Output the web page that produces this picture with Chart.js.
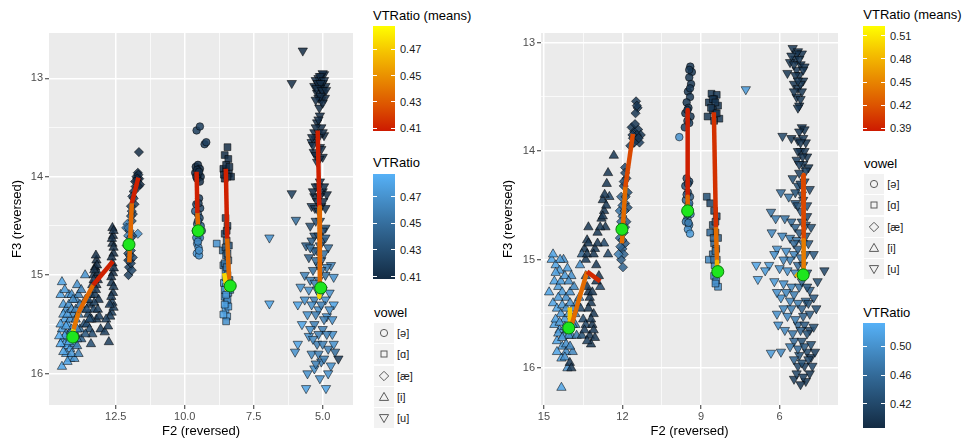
<!DOCTYPE html>
<html>
<head>
<meta charset="utf-8">
<script src="https://cdn.jsdelivr.net/npm/chart.js@4"></script>
<style>
  html, body { margin: 0; padding: 0; background: #fff; }
  body { width: 974px; height: 441px; position: relative; overflow: hidden;
         font-family: 'Liberation Sans', Arial, Helvetica, sans-serif; }
  canvas { position: absolute; top: 0; }
  .lg { position: absolute; white-space: nowrap; }
  .lg-title { font-size: 13px; line-height: 16px; color: #000; }
  .lg-text { font-size: 11px; line-height: 14px; color: #1a1a1a; }
  .bar { position: absolute; }
  .tick { position: absolute; height: 1px; width: 4px; background: #fff; }
  .key { position: absolute; width: 20px; height: 20px; background: #f2f2f2; }
</style>
</head>
<body>
<canvas id="left" width="360" height="441" style="left:0"></canvas>
<canvas id="right" width="350" height="441" style="left:495px"></canvas>
<script>
// ---- axes ----
const leftXRange = [3.9, 14.92];
const leftYRange = [12.54, 16.32];
const leftXTicks = [12.5, 10, 7.5, 5];
const leftXMinor = [11.25, 8.75, 6.25];
const rightXRange = [3.77, 15.11];
const rightYRange = [12.91, 16.34];
const rightXTicks = [15, 12, 9, 6];
const rightXMinor = [13.5, 10.5, 7.5, 4.5];
const yTicks = [13, 14, 15, 16];
const yMinor = [13.5, 14.5, 15.5];

const vowels = ['[ə]', '[ɑ]', '[æ]', '[i]', '[u]'];

// ---- colour scales (legend ranges) ----
const leftRatioRange = [0.408, 0.487];
const leftMeansRange = [0.408, 0.488];
const rightRatioRange = [0.386, 0.533];
const rightMeansRange = [0.387, 0.523];
const leftRatioTicks = [0.41, 0.43, 0.45, 0.47];
const leftMeansTicks = [0.41, 0.43, 0.45, 0.47];
const rightRatioTicks = [0.42, 0.46, 0.50];
const rightMeansTicks = [0.39, 0.42, 0.45, 0.48, 0.51];

// ---- left panel tokens: [F2, F3, VTRatio] ----
const leftSchwa = [[9.57,13.53,0.42],[9.45,13.49,0.42],[9.28,13.67,0.42],[9.22,13.65,0.42],[9.6,13.9,0.41],[9.52,13.88,0.41],
  [9.45,13.92,0.41],[9.62,13.96,0.41],[9.5,13.98,0.41],[9.42,14.0,0.41],[9.55,14.02,0.415],[9.48,14.22,0.42],[9.58,14.28,0.425],
  [9.44,14.32,0.425],[9.52,14.38,0.43],[9.62,14.35,0.44],[9.46,14.42,0.43],[9.55,14.48,0.44],[9.42,14.5,0.44],[9.6,14.55,0.45],
  [9.5,14.6,0.455],[9.45,14.62,0.46],[9.55,14.68,0.465],[9.5,14.72,0.47],[9.56,14.78,0.475],[9.48,14.8,0.47],[9.38,14.55,0.45],
  [9.55,13.93,0.41],[9.48,13.95,0.41],[9.58,14.0,0.41],[9.45,14.05,0.41],[9.5,14.27,0.42],[9.52,14.45,0.44],[9.45,14.55,0.45],
  [9.58,14.62,0.46],[9.52,14.66,0.465],[9.48,14.75,0.47]];
const leftA = [[8.45,13.7,0.41],[8.55,13.78,0.41],[8.42,13.82,0.41],[8.6,13.92,0.41],[8.5,13.95,0.41],[8.4,13.97,0.41],[8.32,14.0,0.41],
  [8.55,14.02,0.41],[8.52,14.42,0.42],[8.45,14.5,0.42],[8.55,14.58,0.425],[8.48,14.65,0.43],[8.4,14.7,0.43],[8.84,14.68,0.47],
  [8.62,14.75,0.45],[8.5,14.8,0.45],[8.42,14.85,0.44],[8.6,14.9,0.46],[8.52,14.95,0.46],[8.45,15.0,0.455],[8.38,15.05,0.45],
  [8.58,15.08,0.47],[8.5,15.12,0.47],[8.42,15.18,0.46],[8.55,15.22,0.475],[8.48,15.28,0.47],[8.52,15.35,0.48],[8.46,15.42,0.475],
  [8.5,15.47,0.47],[8.6,15.4,0.48],[8.35,15.15,0.46],
  [8.5,13.88,0.41],[8.38,13.9,0.41],[8.58,13.98,0.41],[8.45,14.0,0.41],[8.48,14.55,0.42],[8.52,14.72,0.43],[8.45,14.78,0.44],
  [8.55,14.88,0.45],[8.48,14.92,0.455],[8.42,15.08,0.46],[8.52,15.02,0.46],[8.55,15.15,0.47],[8.45,15.25,0.47],[8.5,15.2,0.475],
  [8.42,15.32,0.475],[8.55,15.3,0.48]];
const leftAe = [[11.66,13.75,0.41],[11.7,13.96,0.41],[11.75,14.0,0.41],[11.65,14.02,0.41],[11.72,14.05,0.41],[11.62,14.08,0.41],
  [11.78,14.1,0.415],[11.85,14.15,0.415],[11.9,14.2,0.42],[11.82,14.28,0.42],[11.95,14.3,0.42],[11.88,14.38,0.425],[11.92,14.45,0.43],
  [12.08,14.48,0.46],[12.12,14.52,0.47],[12.0,14.55,0.45],[12.05,14.6,0.46],[11.7,14.58,0.47],[11.9,14.6,0.43],[12.0,14.68,0.44],
  [11.95,14.75,0.43],[12.05,14.78,0.43],[11.98,14.85,0.42],[12.02,14.92,0.42],[12.04,15.0,0.42],[11.92,14.95,0.425],[11.88,14.82,0.43],
  [12.1,14.7,0.44],
  [11.68,13.98,0.41],[11.72,14.02,0.41],[11.68,14.1,0.41],[11.8,14.05,0.41],[11.85,14.22,0.42],[11.92,14.35,0.425],[11.95,14.4,0.43],
  [12.05,14.52,0.45],[11.95,14.62,0.44],[12.0,14.8,0.43],[11.95,14.88,0.42],[12.05,14.85,0.42]];
const leftI = [[14.45,15.07,0.48],[14.4,15.3,0.475],[14.3,15.35,0.47],[14.2,15.2,0.475],[14.1,15.2,0.47],[13.95,15.25,0.465],
  [13.85,15.2,0.46],[13.9,15.1,0.47],[14.35,15.45,0.48],[14.25,15.5,0.485],[14.15,15.45,0.47],[14.05,15.4,0.465],[13.95,15.45,0.46],
  [13.85,15.4,0.455],[14.45,15.55,0.48],[14.4,15.65,0.485],[14.3,15.6,0.48],[14.2,15.6,0.475],[14.1,15.55,0.47],[13.95,15.6,0.46],
  [13.8,15.55,0.45],[14.35,15.7,0.48],[14.25,15.72,0.485],[14.15,15.75,0.48],[14.0,15.7,0.47],[13.9,15.72,0.46],[14.3,15.8,0.48],
  [14.15,15.85,0.475],[14.45,15.93,0.48],[14.0,15.85,0.47],[13.75,15.65,0.44],[13.65,15.5,0.43],[13.7,15.35,0.44],[13.6,15.25,0.44],
  [13.61,15.0,0.47],
  [14.5,15.2,0.48],[14.35,15.15,0.475],[14.2,15.3,0.47],[14.05,15.25,0.465],[14.4,15.4,0.48],[14.25,15.4,0.475],[14.1,15.35,0.47],
  [14.5,15.5,0.48],[14.3,15.52,0.48],[14.15,15.6,0.475],[14.05,15.62,0.47],[13.9,15.55,0.46],[14.5,15.7,0.485],[14.35,15.62,0.48],
  [14.2,15.68,0.48],[14.1,15.8,0.475],[14.4,15.78,0.48],[14.25,15.88,0.48],[13.85,15.8,0.46],[13.95,15.35,0.46],[13.8,15.3,0.455],
  [13.75,15.15,0.46],[13.9,15.65,0.455],[14.55,15.62,0.485],
  [13.55,15.5,0.43],[13.5,15.4,0.425],[13.45,15.3,0.42],[13.4,15.2,0.42],[13.35,15.1,0.415],[13.3,15.0,0.415],[13.25,14.92,0.41],
  [13.2,14.85,0.41],[13.15,14.98,0.41],[13.2,15.1,0.415],[13.25,15.2,0.42],[13.3,15.35,0.425],[13.2,15.45,0.42],[13.45,15.55,0.43],
  [13.35,15.6,0.43],
  [13.22,14.8,0.41],[13.18,14.9,0.41],[13.28,14.95,0.41],[13.15,15.05,0.41],[13.3,15.05,0.415],[13.22,15.15,0.415],[13.12,15.25,0.415],
  [13.28,15.28,0.42],[13.15,15.35,0.42],[13.1,15.42,0.42],[13.38,15.45,0.425],[13.5,15.25,0.425],[13.55,15.35,0.43],[13.45,15.45,0.43],
  [13.6,15.6,0.435],[13.4,15.7,0.43],[13.05,15.55,0.42],
  [12.62,14.52,0.41],[12.6,14.6,0.41],[12.62,14.68,0.41],[12.58,14.78,0.41],[12.62,14.88,0.41],[12.6,14.98,0.41],[12.65,15.08,0.415],
  [12.6,15.18,0.415],[12.62,15.28,0.42],[12.65,15.38,0.42],[12.7,15.42,0.42],[12.85,15.45,0.42],[12.75,15.68,0.42],
  [12.58,14.55,0.41],[12.64,14.63,0.41],[12.58,14.72,0.41],[12.65,14.82,0.41],[12.57,14.93,0.41],[12.66,15.02,0.41],[12.58,15.12,0.415],
  [12.66,15.22,0.415],[12.58,15.33,0.42],[12.72,15.3,0.42],[12.9,15.58,0.42],[12.78,15.52,0.42]];
const leftU = [[5.72,12.72,0.41],[6.12,13.05,0.41],[5.05,12.98,0.41],[4.95,12.96,0.41],[5.15,13.0,0.41],[5.25,13.02,0.41],
  [5.0,13.05,0.41],[4.9,13.08,0.41],[5.1,13.1,0.41],[5.2,13.15,0.41],[4.98,13.15,0.41],[5.05,13.22,0.41],[4.92,13.2,0.41],
  [5.3,13.08,0.41],[5.12,13.3,0.41],
  [5.0,12.95,0.41],[5.1,12.98,0.41],[5.18,13.05,0.41],[4.95,13.02,0.41],[5.08,13.05,0.41],[5.22,13.1,0.41],[5.02,13.12,0.41],
  [4.88,13.12,0.41],[5.15,13.2,0.41],[5.0,13.25,0.41],[5.08,13.18,0.41],[5.25,13.22,0.41],
  [5.1,13.38,0.41],[5.2,13.45,0.41],[5.05,13.5,0.41],[5.3,13.55,0.41],[4.95,13.58,0.41],[5.25,13.62,0.41],[5.4,13.65,0.42],
  [5.1,13.7,0.41],[5.32,13.75,0.41],[5.0,13.8,0.41],[5.2,13.85,0.415],
  [5.15,13.42,0.41],[5.25,13.5,0.41],[5.0,13.55,0.41],[5.15,13.6,0.41],[5.35,13.68,0.41],[5.05,13.72,0.41],[5.25,13.78,0.41],
  [5.12,13.82,0.41],[5.38,13.6,0.41],
  [6.12,14.17,0.42],[5.15,14.1,0.41],[5.0,14.15,0.41],[5.3,14.2,0.41],[4.85,14.18,0.41],[5.2,14.25,0.41],[5.05,14.3,0.415],
  [5.4,14.3,0.42],[4.9,14.32,0.415],[5.97,14.44,0.45],[6.93,14.62,0.47],
  [5.1,14.05,0.41],[5.25,14.1,0.41],[4.95,14.1,0.41],[5.35,14.15,0.41],[5.1,14.2,0.41],[4.98,14.25,0.41],[5.28,14.32,0.415],
  [5.15,14.35,0.415],
  [5.45,14.5,0.43],[5.1,14.45,0.42],[4.9,14.52,0.43],[5.3,14.6,0.43],[5.6,14.7,0.44],[5.0,14.65,0.43],[5.2,14.75,0.44],[4.8,14.72,0.45],
  [5.5,14.82,0.44],[5.05,14.85,0.44],[4.7,14.9,0.46],[5.35,14.95,0.45],[5.65,15.0,0.46],[4.9,15.0,0.45],[4.6,15.02,0.47],[5.15,15.05,0.45],
  [5.25,14.45,0.43],[5.0,14.55,0.43],[5.15,14.6,0.43],[5.4,14.65,0.44],[4.9,14.62,0.44],[5.1,14.7,0.44],[5.3,14.75,0.44],
  [5.45,14.72,0.45],[4.95,14.78,0.45],[5.15,14.9,0.45],[5.25,14.85,0.45],[4.85,14.92,0.46],[5.05,14.95,0.45],[5.45,15.05,0.46],
  [5.28,15.08,0.46],
  [5.8,15.12,0.47],[5.5,15.15,0.47],[5.0,15.15,0.46],[4.75,15.18,0.47],[5.3,15.25,0.46],[6.93,15.29,0.48],[5.9,15.3,0.48],[4.6,15.3,0.48],
  [5.15,15.35,0.47],[5.55,15.4,0.47],[4.85,15.42,0.47],[5.75,15.5,0.48],[5.3,15.5,0.46],[5.0,15.55,0.46],[4.65,15.6,0.47],[5.5,15.62,0.47],
  [5.9,15.7,0.48],[5.2,15.7,0.46],[4.8,15.75,0.46],[6.0,15.78,0.47],[5.4,15.8,0.465],[4.43,15.85,0.42],[5.05,15.88,0.46],[4.7,15.92,0.47],
  [5.3,15.95,0.47],[5.55,16.0,0.47],[4.8,16.0,0.47],[5.6,16.15,0.48],[4.88,16.15,0.48],
  [5.1,15.2,0.47],[4.9,15.25,0.47],[5.2,15.15,0.47],[5.4,15.3,0.47],[5.05,15.3,0.46],[4.75,15.35,0.47],[5.25,15.4,0.46],
  [4.95,15.45,0.46],[5.45,15.55,0.47],[5.15,15.6,0.46],[4.85,15.6,0.46],[5.35,15.65,0.465],[5.0,15.7,0.46],[4.6,15.7,0.47],
  [5.15,15.8,0.46],[4.95,15.85,0.46],[5.25,15.9,0.46],[4.55,15.78,0.45],[4.65,15.45,0.47],[5.65,15.25,0.47],[5.1,16.05,0.47]];

// ---- left panel mean trajectories: [F2, F3, mean VTRatio] ----
const leftPathSchwa = [[9.57,13.95,0.41],[9.54,14.37,0.435],[9.51,14.54,0.435]];
const leftPathA = [[8.51,13.92,0.41],[8.46,14.63,0.435],[8.38,15.12,0.475],[8.48,15.14,0.475],[8.57,14.98,0.475]];
const leftPathAe = [[11.68,14.01,0.41],[11.92,14.27,0.435],[12.01,14.87,0.435]];
const leftPathI = [[14.06,15.63,0.478],[14.03,15.55,0.44],[13.85,15.38,0.435],[13.32,15.10,0.41],[12.6,14.86,0.41]];
const leftPathU = [[5.18,13.53,0.41],[5.12,14.31,0.435],[5.10,15.12,0.475],[5.12,15.22,0.475]];
const leftCentres = [[9.51,14.55],[8.35,15.11],[12.02,14.69],[14.06,15.63],[5.07,15.13]];

// ---- right panel tokens: [F2, F3, VTRatio] ----
const rightSchwa = [[9.41,13.22,0.40],[9.35,13.27,0.40],[9.45,13.32,0.40],[9.38,13.38,0.40],[9.5,13.45,0.40],[9.42,13.5,0.40],
  [9.55,13.55,0.40],[9.48,13.6,0.40],[9.6,13.65,0.40],[9.4,13.68,0.40],[9.52,13.72,0.41],[9.62,13.78,0.41],[9.83,13.87,0.50],
  [9.55,14.25,0.42],[9.45,14.28,0.42],[9.6,14.32,0.43],[9.5,14.38,0.43],[9.42,14.42,0.44],[9.58,14.45,0.45],[9.48,14.5,0.46],
  [9.55,14.55,0.47],[9.4,14.58,0.48],[9.52,14.62,0.48],[9.45,14.68,0.49],[9.58,14.65,0.48],[9.5,14.72,0.50],[9.42,14.76,0.51],
  [9.45,13.25,0.40],[9.42,13.42,0.40],[9.52,13.62,0.40],[9.45,13.74,0.41],[9.5,14.3,0.42],[9.55,14.4,0.44],[9.45,14.48,0.46],
  [9.52,14.58,0.47],[9.48,14.66,0.48]];
const rightA = [[8.6,13.47,0.40],[8.4,13.48,0.40],[8.5,13.52,0.40],[8.7,13.55,0.40],[8.35,13.58,0.40],[8.55,13.62,0.40],
  [8.45,13.65,0.40],[8.75,13.68,0.40],[8.3,13.7,0.40],[8.5,13.72,0.40],[8.78,14.42,0.43],[8.65,14.48,0.42],[8.5,14.55,0.42],
  [8.4,14.6,0.42],[8.55,14.68,0.43],[8.45,14.75,0.43],[8.35,14.8,0.44],[8.5,14.85,0.45],[8.42,14.9,0.46],[8.55,14.95,0.47],
  [8.4,15.0,0.47],[8.48,15.05,0.48],[8.38,15.1,0.49],[8.5,15.15,0.49],[8.42,15.2,0.50],[8.35,15.25,0.50],[8.65,14.75,0.46],[8.7,15.0,0.49],
  [8.55,13.52,0.40],[8.45,13.55,0.40],[8.62,13.6,0.40],[8.4,13.65,0.40],[8.45,14.65,0.43],[8.52,14.8,0.44],[8.45,14.92,0.46],
  [8.5,15.0,0.47],[8.42,15.12,0.49],[8.45,15.22,0.50]];
const rightAe = [[11.48,13.54,0.40],[11.42,13.6,0.40],[11.5,13.65,0.40],[11.65,13.78,0.40],[11.55,13.82,0.40],[11.4,13.8,0.40],
  [11.3,13.85,0.40],[11.6,13.88,0.40],[11.48,13.9,0.40],[11.35,13.92,0.41],[11.7,13.95,0.41],[11.9,14.15,0.42],[11.85,14.25,0.42],
  [11.95,14.32,0.42],[11.8,14.38,0.43],[12.05,14.42,0.45],[11.9,14.48,0.44],[11.8,14.52,0.43],[12.1,14.55,0.47],[12.0,14.6,0.46],
  [11.85,14.65,0.44],[12.05,14.7,0.47],[11.95,14.75,0.45],[12.1,14.8,0.46],[11.9,14.85,0.44],[12.0,14.9,0.45],[11.95,14.95,0.45],
  [12.05,15.0,0.44],[11.98,15.07,0.45],[12.15,14.95,0.48],
  [11.45,13.58,0.40],[11.52,13.75,0.40],[11.45,13.85,0.40],[11.38,13.88,0.40],[11.55,13.92,0.40],[11.62,13.85,0.40],[11.9,14.2,0.42],
  [11.95,14.28,0.42],[11.88,14.42,0.43],[12.0,14.5,0.45],[11.92,14.55,0.44],[12.05,14.65,0.46],[11.9,14.7,0.45],[12.0,14.82,0.45],
  [12.08,14.88,0.45]];
const rightI = [[14.7,15.0,0.52],[14.55,15.05,0.52],[14.4,15.1,0.51],[14.25,15.0,0.50],[14.1,15.08,0.51],[13.95,15.15,0.50],
  [14.6,15.2,0.52],[14.45,15.25,0.51],[14.3,15.3,0.51],[14.15,15.35,0.50],[14.0,15.3,0.50],[13.85,15.25,0.49],[14.65,15.4,0.52],
  [14.5,15.45,0.52],[14.35,15.5,0.51],[14.2,15.55,0.51],[14.05,15.5,0.50],[13.9,15.45,0.49],[13.75,15.4,0.48],[14.6,15.6,0.52],
  [14.4,15.65,0.51],[14.25,15.7,0.51],[14.1,15.65,0.50],[13.95,15.7,0.49],[13.8,15.6,0.48],[14.5,15.75,0.52],[14.3,15.8,0.51],
  [14.15,15.85,0.50],[13.9,15.85,0.49],[14.33,15.91,0.52],[14.33,16.18,0.52],[13.62,15.05,0.50],[13.65,15.35,0.49],[14.8,15.3,0.52],
  [14.55,15.12,0.52],[14.35,15.2,0.51],[14.2,15.15,0.51],[14.05,15.2,0.50],[14.45,15.35,0.51],[14.3,15.42,0.51],[14.15,15.45,0.50],
  [14.0,15.4,0.50],[14.55,15.55,0.52],[14.4,15.58,0.51],[14.2,15.62,0.50],[14.05,15.7,0.50],[13.9,15.6,0.49],[14.45,15.68,0.51],
  [14.3,15.72,0.51],[14.15,15.78,0.50],[14.0,15.8,0.49],[13.75,15.7,0.48],[13.8,15.5,0.48],[14.65,14.95,0.52],[14.38,15.0,0.51],
  [14.5,15.85,0.52],[14.2,15.9,0.50],[14.1,16.0,0.50],
  [14.01,15.95,0.40],[13.95,16.0,0.40],[13.6,15.45,0.42],[13.5,15.55,0.42],[13.4,15.6,0.42],[13.55,15.7,0.43],[13.3,15.3,0.40],
  [13.2,15.4,0.40],[13.1,15.5,0.40],[13.15,15.6,0.40],[13.25,15.7,0.40],[13.05,15.72,0.40],[13.4,15.0,0.40],[13.45,14.9,0.40],
  [13.35,14.82,0.40],[13.4,15.15,0.42],[13.0,15.05,0.40],[12.9,15.15,0.40],[12.85,15.25,0.42],[13.05,14.9,0.40],[12.95,14.75,0.40],
  [12.8,14.62,0.40],[12.7,14.55,0.40],[12.75,14.45,0.40],[12.65,14.7,0.40],[12.7,14.85,0.42],[12.55,14.95,0.42],[12.6,14.3,0.40],
  [12.5,14.42,0.42],[12.33,14.04,0.40],[13.55,14.95,0.45],[13.3,14.7,0.40],
  [13.35,15.25,0.40],[13.25,15.35,0.40],[13.15,15.3,0.40],[13.3,15.45,0.40],[13.2,15.55,0.40],[13.1,15.65,0.40],[13.2,15.78,0.40],
  [13.45,15.65,0.41],[13.35,15.75,0.41],[13.35,14.95,0.40],[13.3,14.85,0.40],[13.1,14.95,0.40],[12.95,14.85,0.40],[12.85,14.7,0.40],
  [12.75,14.6,0.40],[12.68,14.4,0.40],[12.62,14.5,0.40],[12.55,14.2,0.40],[13.0,15.2,0.40]];
const rightU = [[5.5,13.05,0.40],[5.3,13.08,0.40],[5.15,13.1,0.40],[5.4,13.15,0.40],[5.6,13.18,0.40],[5.2,13.2,0.40],[5.05,13.22,0.40],
  [5.35,13.25,0.40],[5.7,13.28,0.40],[5.25,13.3,0.40],[5.1,13.35,0.40],[5.45,13.38,0.40],[5.3,13.42,0.40],[5.15,13.45,0.40],
  [5.35,13.5,0.40],[5.25,13.58,0.40],[7.29,13.43,0.51],
  [5.35,13.1,0.40],[5.45,13.2,0.40],[5.25,13.15,0.40],[5.55,13.12,0.40],[5.1,13.25,0.40],[5.4,13.3,0.40],[5.2,13.38,0.40],
  [5.3,13.35,0.40],[5.45,13.45,0.40],[5.2,13.52,0.40],[5.3,13.6,0.40],
  [5.89,13.86,0.42],[5.15,13.78,0.40],[5.05,13.8,0.40],[5.55,13.88,0.40],[5.3,13.9,0.40],[5.0,13.92,0.40],[5.2,14.0,0.40],
  [4.95,14.05,0.40],[5.35,14.08,0.41],[5.1,14.12,0.40],[4.9,14.15,0.40],[5.25,14.2,0.41],
  [5.25,13.82,0.40],[5.1,13.88,0.40],[5.2,13.92,0.40],[5.05,14.0,0.40],[5.3,14.0,0.40],[5.12,14.05,0.40],[5.25,14.12,0.41],
  [5.0,14.18,0.41],
  [5.5,14.25,0.43],[5.05,14.28,0.42],[5.3,14.32,0.43],[4.85,14.35,0.42],[5.15,14.4,0.43],[5.65,14.42,0.47],[5.95,14.38,0.46],
  [5.4,14.48,0.44],[4.95,14.5,0.43],[5.2,14.55,0.44],[6.33,14.56,0.47],[6.15,14.62,0.48],[5.8,14.62,0.47],[5.55,14.65,0.46],
  [5.0,14.68,0.44],[4.8,14.7,0.43],[6.3,14.75,0.49],[5.9,14.78,0.49],[5.6,14.8,0.48],[5.35,14.82,0.47],[5.1,14.85,0.45],
  [4.9,14.85,0.44],[6.1,14.9,0.50],[5.75,14.92,0.50],[5.45,14.95,0.49],[5.2,14.98,0.47],[4.7,14.95,0.44],[6.89,15.05,0.52],
  [6.4,15.05,0.51],[6.0,15.08,0.50],[5.7,15.1,0.50],[5.4,15.12,0.49],[4.95,15.12,0.44],[4.29,15.1,0.42],[6.83,15.18,0.52],
  [6.2,15.2,0.51],[5.85,15.22,0.50],[5.55,15.25,0.49],[5.25,15.25,0.47],[4.85,15.28,0.45],[5.95,15.35,0.50],[5.6,15.38,0.49],
  [5.3,15.4,0.48],[5.0,15.38,0.46],[4.7,15.35,0.44],
  [5.2,14.3,0.42],[5.4,14.38,0.43],[5.1,14.45,0.42],[5.3,14.5,0.43],[4.95,14.6,0.42],[5.15,14.65,0.43],[5.4,14.7,0.45],
  [5.25,14.75,0.44],[5.0,14.78,0.43],[5.45,14.85,0.46],[5.3,14.9,0.45],[5.0,14.95,0.43],[5.6,15.0,0.48],[5.3,15.05,0.46],
  [5.1,15.05,0.44],[5.85,15.0,0.49],[6.2,14.95,0.50],[6.55,15.1,0.51],[6.1,15.3,0.50],[5.75,15.3,0.49],[5.45,15.32,0.48],
  [5.15,15.2,0.45],[4.95,15.25,0.44],[5.15,15.45,0.45],[4.9,15.4,0.43],[5.55,15.45,0.48],[5.85,15.45,0.49],[5.3,15.6,0.46],
  [5.05,15.6,0.44],[4.85,15.65,0.42],[5.45,15.75,0.46],[5.15,15.75,0.43],[4.95,15.85,0.42],[5.25,15.88,0.43],[5.05,15.98,0.41],
  [5.3,15.98,0.42],[4.8,15.9,0.41],[5.0,16.12,0.40],[5.45,16.1,0.41],[4.65,15.85,0.41],[6.05,15.6,0.50],[5.95,15.85,0.49],
  [4.6,15.45,0.43],[4.55,15.2,0.43],
  [6.1,15.5,0.50],[5.7,15.52,0.49],[5.4,15.55,0.48],[5.1,15.52,0.45],[4.85,15.5,0.44],[5.8,15.65,0.49],[5.5,15.68,0.47],
  [5.2,15.65,0.45],[4.95,15.68,0.43],[4.7,15.62,0.43],[5.6,15.8,0.48],[5.3,15.82,0.46],[5.05,15.8,0.44],[4.8,15.78,0.43],
  [6.33,15.86,0.51],[5.45,15.92,0.45],[5.15,15.95,0.43],[4.9,15.92,0.42],[4.75,15.98,0.42],[5.35,16.05,0.42],[5.1,16.08,0.41],
  [4.85,16.05,0.40],[5.2,16.15,0.40]];

// ---- right panel mean trajectories ----
const rightPathSchwa = [[9.51,13.62,0.39],[9.51,14.42,0.43],[9.51,14.54,0.43]];
const rightPathA = [[8.51,13.64,0.40],[8.43,14.70,0.435],[8.39,15.02,0.48],[8.39,15.08,0.48]];
const rightPathAe = [[11.60,13.84,0.414],[11.89,14.33,0.435],[12.02,14.85,0.435]];
const rightPathI = [[14.01,15.44,0.49],[14.0,15.65,0.435],[13.35,15.11,0.395],[12.85,15.20,0.395]];
const rightPathU = [[5.10,14.22,0.414],[5.08,14.82,0.445],[5.08,15.13,0.445],[5.14,15.18,0.48],[5.39,15.13,0.48]];
const rightCentres = [[9.51,14.55],[8.36,15.11],[12.02,14.72],[14.05,15.63],[5.10,15.14]];

// ---- colours ----
const blueStops = ['#132B43', '#336A98', '#56B1F7'];
const heatStops = ['#CD1A00', '#DD5500', '#E98B00', '#F5C200', '#FFFF00'];

function hexToRgb(h) {
  const n = parseInt(h.slice(1), 16);
  return [n >> 16 & 255, n >> 8 & 255, n & 255];
}
function ramp(stops, t, a) {
  t = Math.max(0, Math.min(1, t));
  const n = stops.length - 1;
  const i = Math.min(Math.floor(t * n), n - 1);
  const f = t * n - i;
  const c0 = hexToRgb(stops[i]), c1 = hexToRgb(stops[i + 1]);
  const c = c0.map((v, k) => Math.round(v + (c1[k] - v) * f));
  return `rgba(${c[0]},${c[1]},${c[2]},${a})`;
}
const blue = (v, r) => ramp(blueStops, (v - r[0]) / (r[1] - r[0]), 0.85);
const heat = (v, r) => ramp(heatStops, (v - r[0]) / (r[1] - r[0]), 1);

// pointStyle per vowel (same order as vowels)
const shapes = [
  { style: 'circle', rot: 0, r: 3.8 },
  { style: 'rect', rot: 0, r: 4.8 },
  { style: 'rectRot', rot: 0, r: 4.6 },
  { style: 'triangle', rot: 0, r: 5.4 },
  { style: 'triangle', rot: 180, r: 5.4 }
];

Chart.defaults.font.family = "'Liberation Sans', Arial, Helvetica, sans-serif";

const panelBg = {
  id: 'panelBg',
  beforeDraw(chart) {
    const { ctx, chartArea: a } = chart;
    ctx.save();
    ctx.fillStyle = '#EBEBEB';
    ctx.fillRect(a.left, a.top, a.right - a.left, a.bottom - a.top);
    ctx.restore();
  }
};

const near = (list, v) => list.some(t => Math.abs(t - v) < 1e-6);

function makePanel(id, o) {
  const datasets = [];
  o.points.forEach((pts, i) => {
    const sh = shapes[i];
    datasets.push({
      data: pts.map(p => ({ x: p[0], y: p[1] })),
      pointStyle: sh.style,
      pointRotation: sh.rot,
      pointRadius: sh.r,
      pointBackgroundColor: pts.map(p => blue(p[2], o.ratioRange)),
      pointBorderColor: 'rgba(0,0,0,0.75)',
      pointBorderWidth: 0.7,
      order: 3
    });
  });
  o.paths.forEach(path => {
    datasets.push({
      data: path.map(p => ({ x: p[0], y: p[1] })),
      showLine: true,
      pointRadius: 0,
      borderWidth: 4.5,
      borderCapStyle: 'butt',
      borderJoinStyle: 'round',
      borderColor: heat(path[0][2], o.meansRange),
      segment: { borderColor: c => heat(path[c.p0DataIndex][2], o.meansRange) },
      order: 2
    });
  });
  datasets.push({
    data: o.centres.map(p => ({ x: p[0], y: p[1] })),
    pointStyle: 'circle',
    pointRadius: 6,
    pointBackgroundColor: '#1EE61E',
    pointBorderColor: '#0B7A0B',
    pointBorderWidth: 1,
    order: 1
  });

  const axisCommon = (majors, minors, fmt) => ({
    type: 'linear',
    reverse: true,
    afterBuildTicks: s => {
      s.ticks = majors.concat(minors).sort((a, b) => b - a).map(v => ({ value: v }));
    },
    ticks: {
      autoSkip: false, maxRotation: 0, minRotation: 0,
      color: '#4D4D4D', font: { size: 11 },
      callback: v => near(majors, v) ? fmt(v) : ''
    },
    grid: {
      color: '#FFFFFF',
      lineWidth: c => (c.tick && near(majors, c.tick.value)) ? 1.5 : 0.7,
      tickColor: c => (c.tick && near(majors, c.tick.value)) ? '#333333' : 'rgba(0,0,0,0)',
      tickWidth: 1,
      tickLength: 4
    },
    border: { display: false }
  });

  const x = axisCommon(o.xTicks, o.xMinor, o.xFmt);
  x.min = o.xRange[0]; x.max = o.xRange[1];
  x.afterFit = s => { s.height = 36; };
  x.ticks.padding = 1;
  x.title = { display: true, text: 'F2 (reversed)', color: '#000', font: { size: 13 }, padding: { top: 0, bottom: 1.5 } };

  const y = axisCommon(yTicks, yMinor, v => v.toFixed(0));
  y.min = o.yRange[0]; y.max = o.yRange[1];
  y.afterFit = s => { s.width = o.yWidth; };
  y.ticks.padding = 2;
  y.title = { display: true, text: 'F3 (reversed)', color: '#000', font: { size: 13 }, padding: { top: o.yTitlePad, bottom: 0 } };

  new Chart(document.getElementById(id), {
    type: 'scatter',
    data: { datasets },
    options: {
      responsive: false,
      animation: false,
      events: [],
      layout: { padding: { top: 33, right: o.padRight, left: 0, bottom: 0 } },
      plugins: { legend: { display: false }, tooltip: { enabled: false } },
      scales: { x, y }
    },
    plugins: [panelBg]
  });
}

makePanel('left', {
  points: [leftSchwa, leftA, leftAe, leftI, leftU],
  paths: [leftPathSchwa, leftPathA, leftPathAe, leftPathI, leftPathU],
  centres: leftCentres,
  ratioRange: leftRatioRange, meansRange: leftMeansRange,
  xRange: leftXRange, yRange: leftYRange,
  xTicks: leftXTicks, xMinor: leftXMinor, xFmt: v => v.toFixed(1),
  yWidth: 49, yTitlePad: 10, padRight: 7
});

makePanel('right', {
  points: [rightSchwa, rightA, rightAe, rightI, rightU],
  paths: [rightPathSchwa, rightPathA, rightPathAe, rightPathI, rightPathU],
  centres: rightCentres,
  ratioRange: rightRatioRange, meansRange: rightMeansRange,
  xRange: rightXRange, yRange: rightYRange,
  xTicks: rightXTicks, xMinor: rightXMinor, xFmt: v => v.toFixed(0),
  yWidth: 46, yTitlePad: 5.2, padRight: 2.3
});

// ---- legends (HTML) ----
function el(cls, css, text) {
  const d = document.createElement('div');
  d.className = cls;
  Object.assign(d.style, css);
  if (text !== undefined) d.textContent = text;
  document.body.appendChild(d);
  return d;
}

function colourBar(x, titleY, title, top, height, range, ticks, stops, labelX) {
  el('lg lg-title', { left: x + 'px', top: (titleY - 8) + 'px' }, title);
  el('bar', {
    left: x + 'px', top: top + 'px', width: '21.5px', height: height + 'px',
    background: `linear-gradient(to top, ${stops.join(', ')})`
  });
  ticks.forEach(v => {
    const ty = top + (range[1] - v) / (range[1] - range[0]) * height;
    el('tick', { left: x + 'px', top: (ty - 0.5) + 'px' });
    el('tick', { left: (x + 17.5) + 'px', top: (ty - 0.5) + 'px' });
    el('lg lg-text', { left: labelX + 'px', top: (ty - 7) + 'px' }, v.toFixed(2));
  });
}

const keySvg = [
  '<circle cx="10" cy="10" r="3.6"/>',
  '<rect x="7" y="7" width="6" height="6"/>',
  '<polygon points="10,5.3 14.7,10 10,14.7 5.3,10"/>',
  '<polygon points="10,5.4 14.6,13.4 5.4,13.4"/>',
  '<polygon points="10,14.6 14.6,6.6 5.4,6.6"/>'
];

function vowelKeys(x, titleY, centres, labelX) {
  el('lg lg-title', { left: x + 'px', top: (titleY - 8) + 'px' }, 'vowel');
  vowels.forEach((v, i) => {
    const k = el('key', { left: x + 'px', top: (centres[i] - 10) + 'px' });
    k.innerHTML = `<svg width="20" height="20" fill="none" stroke="#5a5a5a" stroke-width="1">${keySvg[i]}</svg>`;
    el('lg lg-text', { left: labelX + 'px', top: (centres[i] - 7) + 'px' }, v);
  });
}

colourBar(373, 16, 'VTRatio (means)', 25.7, 105, leftMeansRange, leftMeansTicks, heatStops, 400);
colourBar(373, 163, 'VTRatio', 174, 105.3, leftRatioRange, leftRatioTicks, blueStops, 400);
vowelKeys(374, 313, [333.3, 354.3, 376, 396.7, 417.7], 397);

colourBar(863.3, 15, 'VTRatio (means)', 25.7, 105, rightMeansRange, rightMeansTicks, heatStops, 890);
vowelKeys(864, 164, [184.3, 205.3, 226.7, 247.7, 268.7], 887.3);
colourBar(863.3, 313.3, 'VTRatio', 322.7, 105.6, rightRatioRange, rightRatioTicks, blueStops, 890);
</script>
</body>
</html>
